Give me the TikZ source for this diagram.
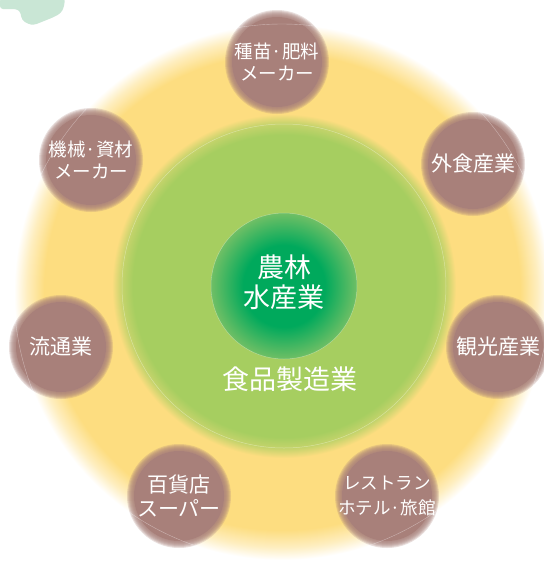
\documentclass[tikz,border=0pt]{standalone}
\usepackage{fontspec}
\newfontfamily\jp{Noto Sans CJK JP}
\definecolor{yel}{HTML}{FDDD80}
\definecolor{grn}{HTML}{A6CE60}
\definecolor{dgrn}{HTML}{00A95C}
\definecolor{edgegrn}{HTML}{6FBF65}
\definecolor{brn}{HTML}{A8807A}
\definecolor{mint}{HTML}{C9E6D5}
\pgfdeclareradialshading{yelshade}{\pgfpointorigin}{color(0bp)=(yel); color(22.2bp)=(yel); color(23.8bp)=(yel!50!white); color(25bp)=(white); color(50bp)=(white)}
\pgfdeclareradialshading{grnshade}{\pgfpointorigin}{color(0bp)=(grn); color(22bp)=(grn); color(23.6bp)=(yel!35!grn); color(25bp)=(yel); color(50bp)=(yel)}
\pgfdeclareradialshading{coreshade}{\pgfpointorigin}{color(0bp)=(dgrn); color(14bp)=(dgrn); color(25bp)=(edgegrn); color(50bp)=(edgegrn)}
\newcommand\softdisc[2]{%
  \foreach \k in {0,...,6} {\fill[brn, opacity=0.25] (#1) circle ({#2pt-\k pt});}
  \fill[brn] (#1) circle ({#2pt-7pt});}
\begin{document}
\begin{tikzpicture}[x=1pt, y=-1pt,
  outerlbl/.style={text=white, align=center, inner sep=0pt, font=\jp\fontsize{21}{24}\selectfont},
  smalllbl/.style={outerlbl, font=\jp\fontsize{18.5}{22}\selectfont},
  tinylbl/.style={outerlbl, font=\jp\fontsize{17.5}{25}\selectfont},
  biglbl/.style={text=white, align=center, inner sep=0pt, font=\jp\fontsize{27}{30}\selectfont},
  faint/.style={draw=white, line width=0.5pt, draw opacity=0.35}]
\useasboundingbox (0,0) rectangle (544,566);
\fill[white] (0,0) rectangle (544,566);
% mint blob
\fill[mint, rounded corners=3pt] (0,-2) -- (65,-2) -- (64,7) -- (61,13) -- (54,17) -- (44,21) -- (34,25) -- (28,24) -- (22,20) -- (20,11) -- (16,9) -- (0,9) -- cycle;
% rings
\coordinate (yc) at (282,292);
\coordinate (gc) at (284,286);
\shade[shading=yelshade] (yc) circle (268pt);
\shade[shading=grnshade] (gc) circle (172pt);
\draw[faint] (gc) circle (162pt);
\shade[shading=coreshade] (gc) circle (73pt);
\draw[faint] (gc) circle (73pt);
% outer discs
\coordinate (cseed) at (277,62);
\coordinate (cfood) at (473,164);
\coordinate (ctour) at (498,347);
\coordinate (crest) at (387,496);
\coordinate (cdept) at (179,496);
\coordinate (cdist) at (61,347);
\coordinate (cmach) at (91,160);
\softdisc{cseed}{52}
\softdisc{cfood}{52}
\softdisc{ctour}{52}
\softdisc{crest}{52}
\softdisc{cdept}{52}
\softdisc{cdist}{52}
\softdisc{cmach}{52}
\begin{scope}
\clip (cseed) circle (52pt) (cfood) circle (52pt) (ctour) circle (52pt) (crest) circle (52pt)
      (cdept) circle (52pt) (cdist) circle (52pt) (cmach) circle (52pt);
\draw[draw=white, line width=0.4pt, draw opacity=0.4] (yc) circle (268pt);
\end{scope}
% labels
\node[smalllbl] (seed) at (cseed) {種苗·肥料\\メーカー};
\node[outerlbl] (food) at (cfood) {外食産業};
\node[outerlbl] (tour) at (ctour) {観光産業};
\node[tinylbl] (rest) at (crest) {レストラン\\ホテル·旅館};
\node[outerlbl] (dept) at (cdept) {百貨店\\スーパー};
\node[outerlbl] (dist) at (cdist) {流通業};
\node[smalllbl] (mach) at (cmach) {機械·資材\\メーカー};
\node[biglbl] (core) at (284,282) {農林\\水産業};
\node[biglbl] (mfg) at (290,379) {食品製造業};
\end{tikzpicture}
\end{document}
